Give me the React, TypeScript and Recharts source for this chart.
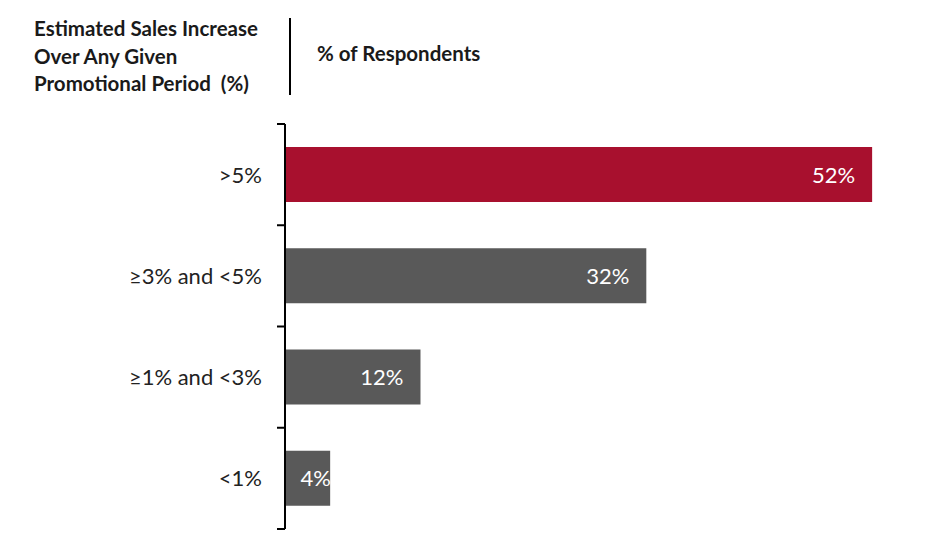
import React from "react";
import { Bar, BarChart, Cell, LabelList, XAxis, YAxis } from "recharts";

const categories = [">5%", "≥3% and <5%", "≥1% and <3%", "<1%"];
const respondents = [52, 32, 12, 4];
const barColors = ["#A8102E", "#595959", "#595959", "#595959"];

const data = categories.map((name, i) => ({ name, value: respondents[i] }));

const FONT = "Lato, 'Liberation Sans', sans-serif";
const TOP = 124;
const BOTTOM = 31;
const HEIGHT = 560;
const BAND = (HEIGHT - TOP - BOTTOM) / categories.length;

const CategoryTick = (props: any) => {
  const { x, y, payload, index } = props;
  const axisX = x + 23;
  return (
    <g>
      <text x={x} y={y} dy={8} textAnchor="end" fontSize={22} fill="#222" fontFamily={FONT}>
        {payload.value}
      </text>
      <line x1={axisX - 8} x2={axisX} y1={y - BAND / 2} y2={y - BAND / 2} stroke="#000" strokeWidth={2} />
      {index === categories.length - 1 && (
        <line x1={axisX - 8} x2={axisX} y1={y + BAND / 2} y2={y + BAND / 2} stroke="#000" strokeWidth={2} />
      )}
    </g>
  );
};

const ValueLabel = (props: any) => {
  const { x, y, width, height, value } = props;
  const tx = Math.max(x + width - 17, x + 46);
  return (
    <text x={tx} y={y + height / 2} dy={8} textAnchor="end" fontSize={22} fill="#fff" fontFamily={FONT}>
      {value}%
    </text>
  );
};

export default function App() {
  return (
    <div style={{ position: "absolute", left: 0, top: 0, width: 949, height: 560, background: "#fff", fontFamily: FONT }}>
      <div style={{ position: "absolute", left: 34, top: 15, fontWeight: 700, fontSize: 20.5, lineHeight: "27.5px", color: "#1a1a1a", whiteSpace: "nowrap" }}>
        Estimated Sales Increase
        <br />
        Over Any Given
        <br />
        Promotional Period&nbsp; (%)
      </div>
      <div style={{ position: "absolute", left: 289, top: 18, width: 2, height: 77, background: "#000" }} />
      <div style={{ position: "absolute", left: 317, top: 41, fontWeight: 700, fontSize: 20.5, color: "#1a1a1a", whiteSpace: "nowrap" }}>
        % of Respondents
      </div>
      <BarChart
        width={949}
        height={HEIGHT}
        data={data}
        layout="vertical"
        margin={{ top: TOP, right: 43, bottom: BOTTOM, left: 0 }}
        barSize={55}
      >
        <XAxis type="number" domain={[0, 55]} hide />
        <YAxis
          type="category"
          dataKey="name"
          width={285}
          axisLine={{ stroke: "#000", strokeWidth: 2 }}
          tickLine={false}
          tickMargin={0}
          tickSize={0}
          tick={(p: any) => <CategoryTick {...p} x={p.x - 23} />}
        />
        <Bar dataKey="value" isAnimationActive={false}>
          {data.map((d, i) => (
            <Cell key={d.name} fill={barColors[i]} />
          ))}
          <LabelList dataKey="value" content={<ValueLabel />} />
        </Bar>
      </BarChart>
    </div>
  );
}
